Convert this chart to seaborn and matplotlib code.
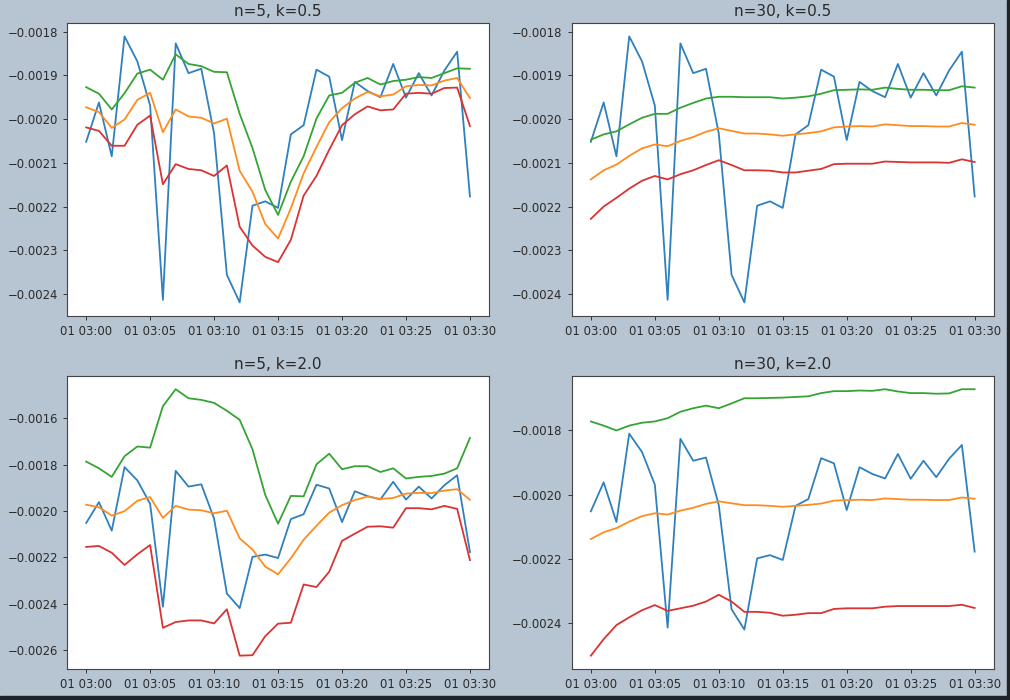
import numpy as np
import pandas as pd
import matplotlib
matplotlib.use("Agg")
import matplotlib.pyplot as plt
import matplotlib.dates as mdates
import seaborn as sns

times = pd.date_range("2021-01-01 03:00", "2021-01-01 03:30", freq="1min")

# raw series (blue), same in all panels
price = [-0.002052, -0.001962, -0.002085, -0.001811, -0.001868, -0.001969, -0.002413,
         -0.001827, -0.001895, -0.001885, -0.002033, -0.002356, -0.002419, -0.002198,
         -0.002188, -0.002203, -0.002035, -0.002014, -0.001887, -0.001903, -0.002048,
         -0.001915, -0.001936, -0.001950, -0.001874, -0.001951, -0.001895, -0.001946,
         -0.001889, -0.001846, -0.002177]

# n=5
mean_5 = [-0.001973, -0.001984, -0.002020, -0.002001, -0.001956, -0.001940, -0.002030,
          -0.001978, -0.001994, -0.001997, -0.002010, -0.001999, -0.002118, -0.002166,
          -0.002240, -0.002273, -0.002204, -0.002124, -0.002064, -0.002007, -0.001975,
          -0.001953, -0.001938, -0.001948, -0.001944, -0.001925, -0.001922, -0.001923,
          -0.001912, -0.001906, -0.001952]
upper_5_05 = [-0.001927, -0.001942, -0.001978, -0.001941, -0.001896, -0.001887, -0.001910,
              -0.001852, -0.001874, -0.001879, -0.001892, -0.001893, -0.001988, -0.002066,
              -0.002162, -0.002219, -0.002143, -0.002085, -0.001999, -0.001946, -0.001940,
              -0.001917, -0.001906, -0.001921, -0.001913, -0.001910, -0.001904, -0.001906,
              -0.001895, -0.001884, -0.001885]
lower_5_05 = [-0.002019, -0.002027, -0.002061, -0.002061, -0.002013, -0.001992, -0.002149,
              -0.002103, -0.002114, -0.002117, -0.002130, -0.002106, -0.002246, -0.002289,
              -0.002315, -0.002327, -0.002276, -0.002175, -0.002130, -0.002070, -0.002014,
              -0.001989, -0.001971, -0.001980, -0.001978, -0.001942, -0.001940, -0.001942,
              -0.001929, -0.001928, -0.002016]
upper_5_2 = [-0.001787, -0.001816, -0.001853, -0.001764, -0.001722, -0.001727, -0.001548,
             -0.001475, -0.001514, -0.001521, -0.001534, -0.001568, -0.001607, -0.001734,
             -0.001931, -0.002055, -0.001935, -0.001937, -0.001799, -0.001753, -0.001820,
             -0.001807, -0.001807, -0.001832, -0.001816, -0.001860, -0.001853, -0.001849,
             -0.001839, -0.001816, -0.001685]
lower_5_2 = [-0.002155, -0.002151, -0.002180, -0.002233, -0.002187, -0.002147, -0.002504,
             -0.002479, -0.002472, -0.002472, -0.002485, -0.002424, -0.002624, -0.002622,
             -0.002540, -0.002486, -0.002482, -0.002317, -0.002328, -0.002262, -0.002129,
             -0.002098, -0.002068, -0.002066, -0.002072, -0.001988, -0.001988, -0.001993,
             -0.001978, -0.001991, -0.002212]

# n=30
mean_30 = [-0.002138, -0.002117, -0.002104, -0.002084, -0.002067, -0.002058, -0.002062,
           -0.002050, -0.002041, -0.002029, -0.002021, -0.002027, -0.002033, -0.002033,
           -0.002035, -0.002038, -0.002035, -0.002032, -0.002028, -0.002019, -0.002017,
           -0.002016, -0.002017, -0.002012, -0.002014, -0.002016, -0.002016, -0.002017,
           -0.002017, -0.002009, -0.002013]
upper_30_05 = [-0.002047, -0.002035, -0.002028, -0.002012, -0.001997, -0.001988, -0.001988,
               -0.001974, -0.001963, -0.001953, -0.001949, -0.001949, -0.001950, -0.001950,
               -0.001950, -0.001953, -0.001951, -0.001948, -0.001942, -0.001934, -0.001933,
               -0.001932, -0.001933, -0.001928, -0.001931, -0.001933, -0.001933, -0.001934,
               -0.001934, -0.001925, -0.001928]
lower_30_05 = [-0.002228, -0.002200, -0.002180, -0.002159, -0.002141, -0.002130, -0.002138,
               -0.002126, -0.002117, -0.002105, -0.002094, -0.002105, -0.002117, -0.002117,
               -0.002118, -0.002122, -0.002122, -0.002118, -0.002114, -0.002103, -0.002102,
               -0.002102, -0.002102, -0.002097, -0.002098, -0.002099, -0.002099, -0.002099,
               -0.002100, -0.002092, -0.002098]
upper_30_2 = [-0.001773, -0.001786, -0.001801, -0.001786, -0.001777, -0.001773, -0.001763,
              -0.001743, -0.001732, -0.001724, -0.001732, -0.001717, -0.001701, -0.001701,
              -0.001700, -0.001699, -0.001697, -0.001695, -0.001685, -0.001679, -0.001679,
              -0.001677, -0.001678, -0.001673, -0.001680, -0.001685, -0.001685, -0.001687,
              -0.001686, -0.001673, -0.001673]
lower_30_2 = [-0.002500, -0.002449, -0.002405, -0.002381, -0.002359, -0.002343, -0.002361,
              -0.002353, -0.002345, -0.002332, -0.002311, -0.002332, -0.002364, -0.002364,
              -0.002367, -0.002376, -0.002373, -0.002368, -0.002368, -0.002355, -0.002353,
              -0.002353, -0.002353, -0.002348, -0.002346, -0.002346, -0.002346, -0.002346,
              -0.002346, -0.002342, -0.002352]

panels = [
    ("n=5, k=0.5", mean_5, upper_5_05, lower_5_05),
    ("n=30, k=0.5", mean_30, upper_30_05, lower_30_05),
    ("n=5, k=2.0", mean_5, upper_5_2, lower_5_2),
    ("n=30, k=2.0", mean_30, upper_30_2, lower_30_2),
]

bg = "#b7c4d1"
txt = "#2a2a2a"
fig = plt.figure(figsize=(10.1, 7.0), dpi=100, facecolor=bg)
boxes = [
    [0.0663, 0.549, 0.418, 0.418],
    [0.566, 0.549, 0.418, 0.418],
    [0.0663, 0.0443, 0.418, 0.4187],
    [0.566, 0.0443, 0.418, 0.4187],
]

lw = 1.3
for box, (title, mean, upper, lower) in zip(boxes, panels):
    ax = fig.add_axes(box)
    sns.lineplot(x=times, y=price, ax=ax, color="#2f80bd", linewidth=lw)
    sns.lineplot(x=times, y=mean, ax=ax, color="#ff8c1f", linewidth=lw)
    sns.lineplot(x=times, y=upper, ax=ax, color="#35a435", linewidth=lw)
    sns.lineplot(x=times, y=lower, ax=ax, color="#d93333", linewidth=lw)
    ax.set_title(title, fontsize=11, color=txt, pad=5)
    ax.set_xlabel("")
    ax.set_ylabel("")
    ax.xaxis.set_major_locator(mdates.MinuteLocator(byminute=range(0, 60, 5)))
    ax.xaxis.set_major_formatter(mdates.DateFormatter("%d %H:%M"))
    ax.tick_params(labelsize=8.4, labelcolor=txt, color="#333333", length=3, width=0.7)
    for s in ax.spines.values():
        s.set_edgecolor("#444444")
        s.set_linewidth(0.8)

# dark screenshot edges
fig.patches.append(plt.Rectangle((0, 0), 1, 4 / 700, transform=fig.transFigure,
                                 color="#1f2429", zorder=10))
fig.patches.append(plt.Rectangle((1 - 3 / 1010, 0), 3 / 1010, 1, transform=fig.transFigure,
                                 color="#1f2429", zorder=10))

fig.savefig("out.png", dpi=100, facecolor=bg)
